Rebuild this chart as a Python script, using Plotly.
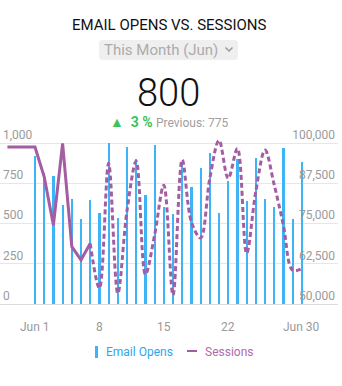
import plotly.graph_objects as go
import pandas as pd

# ---- data ----
days = pd.date_range("2023-06-01", "2023-06-30", freq="D")
email_opens = [921, 814, 797, 617, 652, 526, 646, 567, 998, 532,
               976, 900, 680, 989, 600, 558, 882, 728, 844, 937,
               564, 761, 902, 638, 906, 655, 603, 970, 526, 884]
sessions_lead = 98750          # last value of the previous period
sessions = [98750, 89500, 74500, 99900, 67800, 63700, 68800, 54900, 93700, 53300,
            79000, 94300, 59200, 71400, 86900, 52800, 94800, 75500, 70500, 89000,
            100800, 89000, 98300, 65700, 84900, 97800, 87000, 74500, 60500, 61000]
solid_until = 7                # days shown as a solid line
x_ticks = ["2023-06-01", "2023-06-08", "2023-06-15", "2023-06-22", "2023-06-30"]
x_tick_text = ["Jun 1", "8", "15", "22", "Jun 30"]
left_ticks = [0, 250, 500, 750, 1000]
right_ticks = [50000, 62500, 75000, 87500, 100000]

BLUE = "#3db4f5"
PURPLE = "#a45ca2"
GRAY = "#9a9a9a"

W, H = 342, 386
ML, MR, MT, MB = 0, 4, 127, 82
PW, PH = W - ML - MR, H - MT - MB
PX_PER_1000 = 161              # vertical pixels for one full left-axis span


def px(x):
    return (x - ML) / PW


def py(y):
    return (H - MB - y) / PH


DAY_MS = 86400000
fig = go.Figure()
fig.add_trace(go.Bar(
    x=days, y=email_opens, name="Email Opens",
    marker=dict(color=BLUE, line=dict(width=0)),
    width=0.24 * DAY_MS, showlegend=False, hoverinfo="skip",
))

lead_day = days[0] - pd.Timedelta(days=3)
solid_x = [lead_day] + list(days[:solid_until])
solid_y = [sessions_lead] + sessions[:solid_until]
fig.add_trace(go.Scatter(
    x=solid_x, y=solid_y, yaxis="y2", mode="lines", name="Sessions",
    line=dict(color=PURPLE, width=3), showlegend=False, hoverinfo="skip",
))
fig.add_trace(go.Scatter(
    x=days[solid_until - 1:], y=sessions[solid_until - 1:], yaxis="y2",
    mode="lines", name="Sessions",
    line=dict(color=PURPLE, width=3, dash="5px,3px", shape="spline", smoothing=1),
    showlegend=False, hoverinfo="skip",
))

x_start = days[0] - pd.Timedelta(days=35 / 9.2)
x_end = days[0] + pd.Timedelta(days=(PW - 35) / 9.2)
left_top = 1000 * PH / PX_PER_1000
right_top = 50000 + 50000 * PH / PX_PER_1000

fig.update_layout(
    width=W, height=H,
    margin=dict(l=ML, r=MR, t=MT, b=MB),
    paper_bgcolor="white", plot_bgcolor="white",
    font=dict(family="Roboto", size=12, color=GRAY),
    bargap=0, hovermode=False,
    xaxis=dict(
        type="date", range=[x_start, x_end],
        showticklabels=False, ticks="",
        showgrid=False, showline=True, linecolor="#dcdcdc", linewidth=1,
        zeroline=False,
    ),
    yaxis=dict(
        range=[0, left_top], tickvals=left_ticks, tickformat=",d",
        ticklabelposition="inside top", showgrid=True, gridcolor="#e6e6e6",
        gridwidth=1, zeroline=False, tickfont=dict(size=12, color=GRAY),
    ),
    yaxis2=dict(
        range=[50000, right_top], tickvals=right_ticks, tickformat=",d",
        overlaying="y", side="right", ticklabelposition="inside top",
        showgrid=False, zeroline=False, tickfont=dict(size=12, color=GRAY),
    ),
)

# header block
annotations = [
    dict(x=px(169), y=py(25.5), text="EMAIL OPENS VS. SESSIONS",
         font=dict(size=15, color="#111111")),
    dict(x=px(161), y=py(50), text="This Month (Jun)",
         font=dict(size=15, color="#ababab")),
    dict(x=px(168), y=py(92.5), text="800", height=40,
         font=dict(size=38, color="#111111", weight=300)),
    dict(x=px(169.5), y=py(122), height=16,
         text='<span style="color:#3cc35c;font-size:14px">▲  <b>3 %</b></span>'
              ' <span style="color:#a0a0a0;font-size:12px">Previous: 775</span>',
         font=dict(size=13)),
    # legend
    dict(x=px(104), y=py(352), text="Email Opens", xanchor="left",
         font=dict(size=12, color="#2aa7ef")),
    dict(x=px(203), y=py(352), text="Sessions", xanchor="left",
         font=dict(size=12, color="#b06aae")),
]
for a in annotations:
    a.update(xref="paper", yref="paper", showarrow=False)
    a.setdefault("xanchor", "center")
    a.setdefault("yanchor", "middle")

# date labels under the axis
for tv, tt in zip(x_ticks, x_tick_text):
    annotations.append(dict(
        x=tv, xref="x", y=py(327), yref="paper", text=tt, showarrow=False,
        xanchor="center", yanchor="middle", font=dict(size=12, color=GRAY),
    ))


def rounded_rect(x0, y0, x1, y1, r):
    pts = [
        f"M {px(x0 + r)},{py(y0)}",
        f"L {px(x1 - r)},{py(y0)}",
        f"Q {px(x1)},{py(y0)} {px(x1)},{py(y0 + r)}",
        f"L {px(x1)},{py(y1 - r)}",
        f"Q {px(x1)},{py(y1)} {px(x1 - r)},{py(y1)}",
        f"L {px(x0 + r)},{py(y1)}",
        f"Q {px(x0)},{py(y1)} {px(x0)},{py(y1 - r)}",
        f"L {px(x0)},{py(y0 + r)}",
        f"Q {px(x0)},{py(y0)} {px(x0 + r)},{py(y0)}",
        "Z",
    ]
    return " ".join(pts)


shapes = [
    dict(type="path", path=rounded_rect(99, 40, 238, 60, 4),
         fillcolor="#efefef", line=dict(width=0), layer="below"),
    dict(type="path",
         path=f"M {px(225.5)},{py(47.5)} L {px(229)},{py(51)} L {px(232.5)},{py(47.5)}",
         line=dict(color="#9a9a9a", width=1.5)),
    # legend keys
    dict(type="rect", x0=px(95), x1=px(98), y0=py(358), y1=py(346),
         fillcolor=BLUE, line=dict(width=0)),
    dict(type="line", x0=px(187), x1=px(197), y0=py(351), y1=py(351),
         line=dict(color=PURPLE, width=2)),
]
for s in shapes:
    s.update(xref="paper", yref="paper")

fig.update_layout(annotations=annotations, shapes=shapes)

fig.write_html("out.html")
